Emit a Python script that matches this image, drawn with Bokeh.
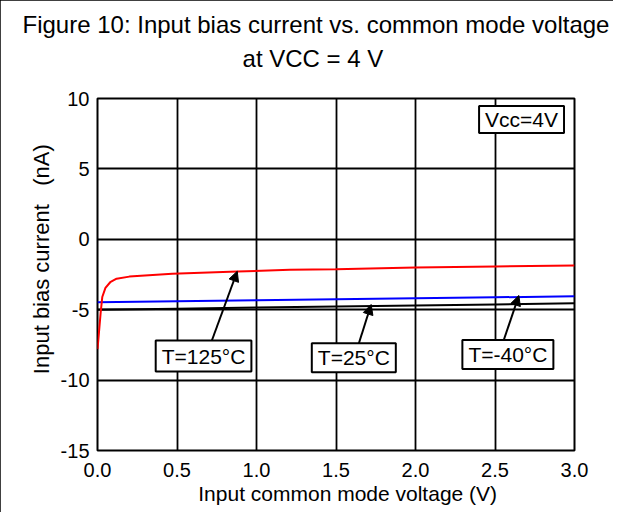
from bokeh.plotting import figure
from bokeh.models import Range1d, FixedTicker, Label, Arrow, NormalHead, Title
from bokeh.embed import file_html
from bokeh.resources import INLINE

# ---- data ----
red_x = [0.0, 0.01, 0.02, 0.03, 0.05, 0.08, 0.12, 0.2, 0.47, 0.88, 1.21, 1.5, 2.0, 2.5, 3.0]
red_y = [-7.8, -6.5, -5.2, -4.1, -3.45, -3.05, -2.8, -2.65, -2.45, -2.29, -2.17, -2.12, -2.0, -1.93, -1.86]
blue_x = [0.0, 0.5, 1.0, 1.5, 2.0, 2.5, 3.0]
blue_y = [-4.47, -4.40, -4.33, -4.26, -4.19, -4.12, -4.05]
black_x = [0.0, 0.5, 1.0, 1.5, 2.0, 2.5, 3.0]
black_y = [-5.0, -4.93, -4.85, -4.78, -4.70, -4.63, -4.55]
x_ticks = [0.0, 0.5, 1.0, 1.5, 2.0, 2.5, 3.0]
x_tick_labels = ["0.0", "0.5", "1.0", "1.5", "2.0", "2.5", "3.0"]
y_ticks = [-15, -10, -5, 0, 5, 10]
y_tick_labels = ["-15", "-10", "-5", "0", "5", "10"]

title_lines = ["Figure 10: Input bias current vs. common mode voltage", "at VCC = 4 V"]

labels = ["T=125°C", "T=25°C", "T=-40°C", "Vcc=4V"]
label_x = [0.667, 1.612, 2.581, 2.667]
label_y = [-8.29, -8.42, -8.18, 8.5]
label_pad_v = [4, 3, 3, 2]
arrow_start_x = [0.717, 1.643, 2.552]
arrow_start_y = [-7.26, -7.42, -7.26]
arrow_end_x = [0.879, 1.721, 2.65]
arrow_end_y = [-2.27, -4.63, -3.99]

FONT = "Liberation Sans"
NB = "\u00a0"

p = figure(width=613, height=512, output_backend="svg", toolbar_location=None,
           x_range=Range1d(0, 3), y_range=Range1d(-15, 10),
           min_border_left=97, min_border_right=39, min_border_top=98, min_border_bottom=62)
p.frame_width = 477
p.frame_height = 352
p.styles = {"outline": "2px solid black", "outline-offset": "-2px"}

p.outline_line_color = "black"
p.outline_line_width = 2

for ax in (p.xaxis[0], p.yaxis[0]):
    ax.major_tick_in = 0
    ax.major_tick_out = 0
    ax.minor_tick_in = 0
    ax.minor_tick_out = 0
    ax.axis_line_color = None
    ax.major_label_text_font = FONT
    ax.major_label_text_font_size = "20px"
    ax.major_label_text_color = "black"
    ax.axis_label_text_font = FONT
    ax.axis_label_text_font_style = "normal"
    ax.axis_label_text_color = "black"

p.xaxis.ticker = FixedTicker(ticks=x_ticks)
p.yaxis.ticker = FixedTicker(ticks=y_ticks)
p.xaxis.major_label_overrides = dict(zip(x_ticks, x_tick_labels))
p.yaxis.major_label_overrides = dict(zip(y_ticks, y_tick_labels))
p.xaxis.major_label_standoff = 12
p.yaxis.major_label_standoff = 8
p.xaxis.axis_label = NB * 4 + "Input common mode voltage (V)"
p.yaxis.axis_label = NB * 5 + "Input bias current" + NB * 3 + "(nA)"
p.xaxis.axis_label_text_font_size = "21px"
p.yaxis.axis_label_text_font_size = "22px"
p.xaxis.axis_label_standoff = 2
p.yaxis.axis_label_standoff = 4

for g in (p.xgrid[0], p.ygrid[0]):
    g.grid_line_color = "black"
    g.grid_line_width = 1.8
p.xgrid.ticker = FixedTicker(ticks=x_ticks)
p.ygrid.ticker = FixedTicker(ticks=y_ticks)

p.line(black_x, black_y, line_color="black", line_width=2)
p.line(blue_x, blue_y, line_color="#0000ff", line_width=2)
p.line(red_x, red_y, line_color="#ff0000", line_width=2)

for sx, sy, ex, ey in zip(arrow_start_x, arrow_start_y, arrow_end_x, arrow_end_y):
    p.add_layout(Arrow(x_start=sx, y_start=sy, x_end=ex, y_end=ey, line_width=2,
                       line_color="black",
                       end=NormalHead(size=10, fill_color="black", line_color="black")))

for txt, lx, ly, pv in zip(labels, label_x, label_y, label_pad_v):
    p.add_layout(Label(x=lx, y=ly, text=txt, text_align="center", text_baseline="middle",
                       text_font=FONT, text_font_size="21px", text_color="black",
                       border_line_color="black", border_line_width=2,
                       background_fill_color="white",
                       padding=dict(left=6, right=6, top=pv, bottom=pv)))

# two title lines (second padded so it sits centred under the first)
p.title.text = title_lines[0] + "\n" + NB * 33 + title_lines[1]
p.title.align = "left"
p.title.offset = -75
p.title.text_font = FONT
p.title.text_font_size = "24px"
p.title.text_font_style = "normal"
p.title.text_color = "black"
p.title.text_line_height = 1.25
p.title.standoff = 0
# blank spacer between the title and the plot frame
p.add_layout(Title(text=NB, text_font=FONT, text_font_size="22px", text_line_height=1.2,
                   standoff=0), "above")

open("out.html", "w").write(file_html(p, INLINE))
